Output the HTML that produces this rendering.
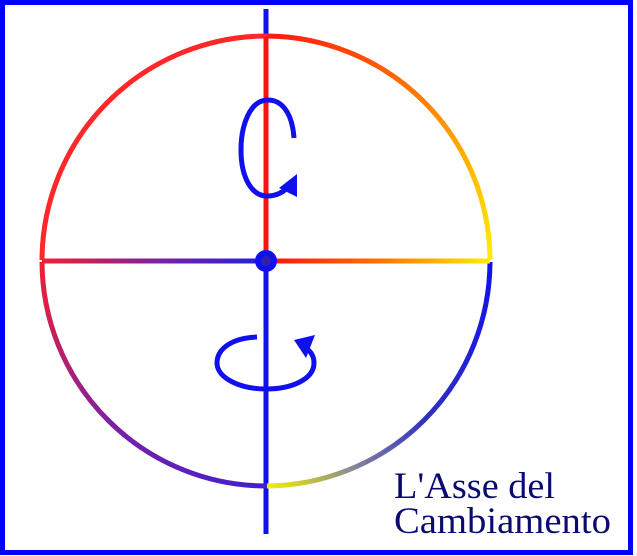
<!DOCTYPE html>
<html><head><style>html,body{margin:0;padding:0;background:#fff}svg{display:block}</style></head>
<body>
<svg width="637" height="556" viewBox="0 0 637 556" xmlns="http://www.w3.org/2000/svg">
<defs>
<linearGradient id="tr" gradientUnits="userSpaceOnUse" x1="267" y1="37" x2="490" y2="260"><stop offset="0" stop-color="#ff1a10"/><stop offset="0.5" stop-color="#ff8000"/><stop offset="1" stop-color="#ffee00"/></linearGradient>
<linearGradient id="bl" gradientUnits="userSpaceOnUse" x1="42" y1="260" x2="267" y2="487"><stop offset="0" stop-color="#f02030"/><stop offset="0.5" stop-color="#8020a0"/><stop offset="1" stop-color="#4020d0"/></linearGradient>
<linearGradient id="br" gradientUnits="userSpaceOnUse" x1="490" y1="260" x2="267" y2="487"><stop offset="0" stop-color="#1010f0"/><stop offset="0.5" stop-color="#3030c0"/><stop offset="0.75" stop-color="#8080a0"/><stop offset="1" stop-color="#f0f000"/></linearGradient>
<linearGradient id="hl" gradientUnits="userSpaceOnUse" x1="42" y1="0" x2="267" y2="0"><stop offset="0" stop-color="#f02030"/><stop offset="0.5" stop-color="#8020a0"/><stop offset="1" stop-color="#2020e0"/></linearGradient>
<linearGradient id="hr" gradientUnits="userSpaceOnUse" x1="267" y1="0" x2="490" y2="0"><stop offset="0" stop-color="#ff1010"/><stop offset="0.5" stop-color="#ff7000"/><stop offset="1" stop-color="#ffee00"/></linearGradient>
</defs>
<rect x="2.5" y="2.5" width="628" height="550" fill="none" stroke="#0000ff" stroke-width="5"/>
<line x1="266" y1="9" x2="266" y2="534" stroke="#1010ee" stroke-width="5"/>
<path d="M42 260 A225 225 0 0 1 267 36" fill="none" stroke="#ff2828" stroke-width="5"/>
<path d="M267 36 A225 225 0 0 1 490 260" fill="none" stroke="url(#tr)" stroke-width="5"/>
<path d="M490 262 A225 225 0 0 1 267 486" fill="none" stroke="url(#br)" stroke-width="5"/>
<path d="M267 486 A225 225 0 0 1 42 262" fill="none" stroke="url(#bl)" stroke-width="5"/>
<line x1="42" y1="261" x2="262" y2="261" stroke="url(#hl)" stroke-width="5"/>
<line x1="270" y1="261" x2="490" y2="261" stroke="url(#hr)" stroke-width="5"/>
<line x1="266" y1="37" x2="266" y2="256" stroke="#ff1010" stroke-width="5"/>
<circle cx="266" cy="261" r="8" fill="#3020b0" stroke="#1010ee" stroke-width="6"/>
<path d="M294 138 C292 110 280 100 268 100 C250 100 241 125 241 150 C241 178 252 196 267 196 C278 196 285 191 290 185" fill="none" stroke="#1010ee" stroke-width="5"/>
<polygon points="297,174 297,197 279,188" fill="#1010ee"/>
<path d="M257 337 C230 338 217 350 217 363 C217 378 240 389 266 389 C292 389 314 379 314 363 C314 356 311 352 306 348" fill="none" stroke="#1010ee" stroke-width="5"/>
<polygon points="315,335 294,340 306,358" fill="#1010ee"/>
<text x="394" y="498" font-family="Liberation Serif, serif" font-size="37" fill="#0a0a70" textLength="161" lengthAdjust="spacingAndGlyphs">L'Asse del</text>
<text x="394" y="533" font-family="Liberation Serif, serif" font-size="37" fill="#0a0a70" textLength="217" lengthAdjust="spacingAndGlyphs">Cambiamento</text>
</svg>
</body></html>
